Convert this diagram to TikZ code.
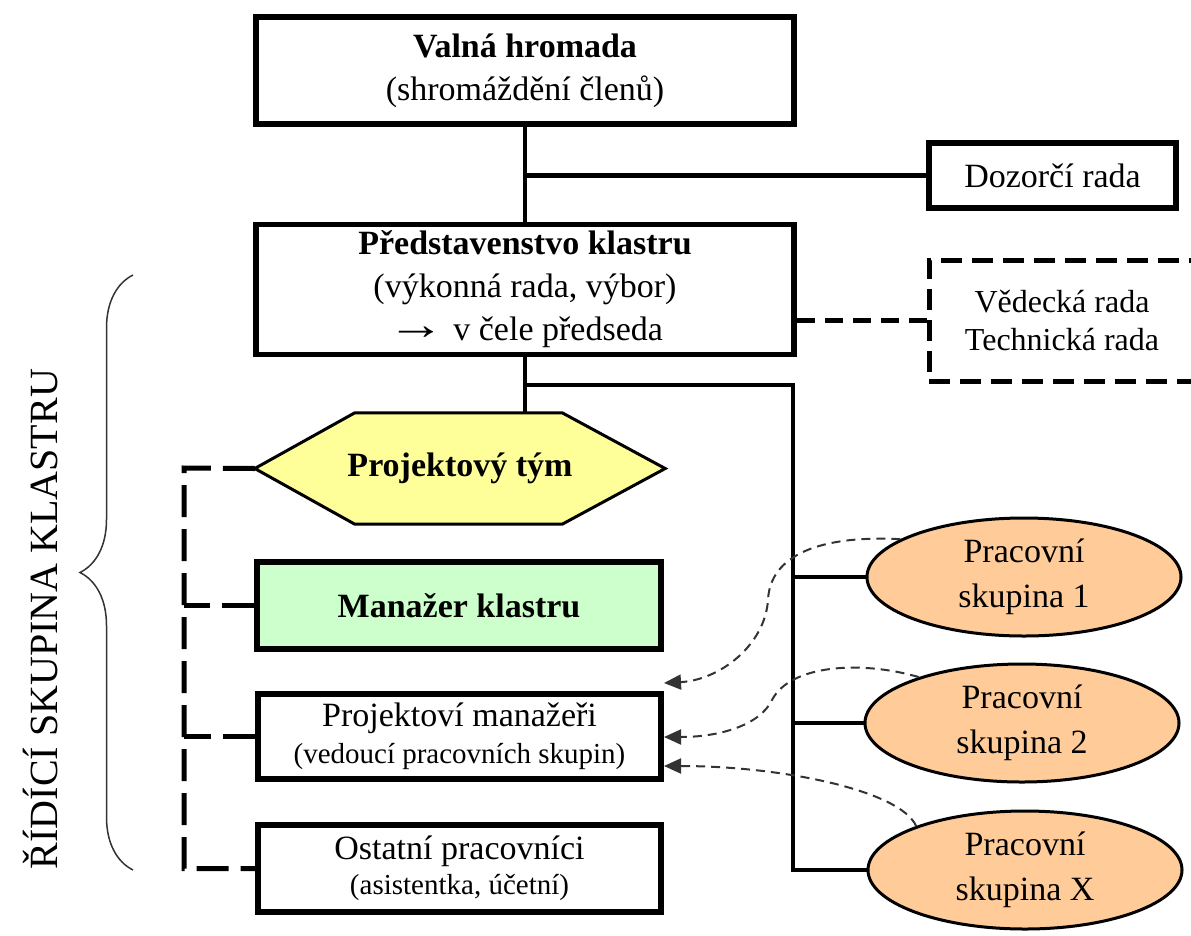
\documentclass[tikz,border=0pt]{standalone}
\usepackage{graphicx}
\usepackage{fontspec}
\setmainfont{Liberation Serif}
\usetikzlibrary{shapes.geometric,arrows.meta,decorations.pathreplacing}
\pgfdeclarelayer{background}
\pgfsetlayers{background,main}
\definecolor{hexfill}{HTML}{FFFF99}
\definecolor{mgrfill}{HTML}{CCFFCC}
\definecolor{grpfill}{HTML}{FFCC99}
\newcommand{\headarrow}{\raisebox{1pt}{\scalebox{1.7}[1.3]{→}}}

\begin{document}
\begin{tikzpicture}[x=1pt,y=-1pt,
  font=\fontsize{34}{43}\selectfont,
  box/.style={draw, rectangle, line width=5.5pt, inner sep=0pt, align=center},
  dbox/.style={draw, rectangle, line width=5pt, dash pattern=on 21pt off 10pt,
    inner sep=0pt, align=center, font=\fontsize{32}{38}\selectfont},
  grp/.style={draw, ellipse, line width=3pt, fill=grpfill, inner sep=0pt,
    minimum width=314pt, minimum height=118pt, align=center,
    font=\fontsize{34}{45}\selectfont},
  conn/.style={line width=4.5pt},
  dconn/.style={line width=5pt, dash pattern=on 18pt off 10pt},
  bracket/.style={line width=5pt, dash pattern=on 32pt off 12pt},
  link/.style={line width=2pt, draw=black!80, dash pattern=on 9pt off 6pt,
    -{Triangle[length=17pt,width=15pt]}}
]
\useasboundingbox (0,0) rectangle (1191,935);
\clip (0,0) rectangle (1191,935);

% governing bodies
\node[box, minimum width=538pt, minimum height=107pt] (vh) at (525,70.5)
  {\textbf{Valná hromada}\\(shromáždění členů)};
\node[box, minimum width=247pt, minimum height=65pt] (dr) at (1052.5,175.5)
  {Dozorčí rada};
\node[box, minimum width=538pt, minimum height=130pt] (ps) at (525,289.5)
  {\textbf{Představenstvo klastru}\\(výkonná rada, výbor)\\\headarrow{} v čele předseda};
\node[dbox, minimum width=266pt, minimum height=121pt] (vr) at (1062,320.5)
  {Vědecká rada\\Technická rada};

% project team (hexagon drawn behind the label)
\node[inner sep=0pt, minimum width=410pt, minimum height=111pt] (pt) at (460,468.5)
  {\textbf{Projektový tým}};
\begin{pgfonlayer}{background}
  \filldraw[line width=3pt, fill=hexfill, line join=miter]
    (pt.west) -- ([xshift=100pt]pt.north west) -- ([xshift=-103pt]pt.north east)
    -- (pt.east) -- ([xshift=-103pt]pt.south east) -- ([xshift=100pt]pt.south west)
    -- cycle;
\end{pgfonlayer}

% management boxes
\node[box, fill=mgrfill, minimum width=404pt, minimum height=87pt] (mk) at (459,605.5)
  {\textbf{Manažer klastru}};
\node[box, minimum width=403pt, minimum height=85pt] (pm) at (459.5,736.5)
  {Projektoví manažeři\\[-6pt]{\fontsize{29}{36}\selectfont (vedoucí pracovních skupin)}};
\node[box, minimum width=403pt, minimum height=87pt] (oc) at (459.5,868.5)
  {Ostatní pracovníci\\[-8pt]{\fontsize{29}{36}\selectfont (asistentka, účetní)}};

% working groups
\node[grp] (pg1) at (1024,577) {Pracovní\\skupina 1};
\node[grp] (pg2) at (1022,723) {Pracovní\\skupina 2};
\node[grp] (pgX) at (1025,870) {Pracovní\\skupina X};

% solid hierarchy lines
\draw[conn] (vh.south) -- (ps.north);
\draw[conn] (vh.south |- dr.west) -- (dr.west);
\coordinate (bus) at (793,385);
\draw[conn] (ps.south) -- (ps.south |- pt.north);
\draw[conn] (ps.south |- bus) -- (bus) -- (bus |- pgX.west) -- (pgX.west);
\draw[conn] (bus |- pg1.west) -- (pg1.west);
\draw[conn] (bus |- pg2.west) -- (pg2.west);

% dashed links
\draw[dconn] (ps.east |- vr.west) -- (vr.west);
\coordinate (lb) at (184,468);
\draw[bracket] (pt.west) -- (lb) -- (lb |- oc.west) -- (oc.west);
\draw[bracket] (mk.west) -- (lb |- mk.west);
\draw[bracket] (pm.west) -- (lb |- pm.west);

% reporting arrows from the working groups
\coordinate (t1) at (664,683);
\coordinate (t2) at (664,737);
\coordinate (t3) at (664,766);
\draw[link] (pg1.163) .. controls (820,535) and (770,555) .. (768,600)
  .. controls (765,645) and (720,680) .. (t1);
\draw[link] (pg2.156) .. controls (860,660) and (790,665) .. (772,700)
  .. controls (760,725) and (720,737) .. (t2);
\draw[link] (pgX.158) .. controls (900,790) and (780,766) .. (t3);

% brace with the group label
\coordinate (bb) at (133,870);
\coordinate (bt) at (133,275);
\draw[line width=1.5pt, draw=black!80, decorate, decoration={brace, amplitude=53pt}]
  (bb) -- (bt);
\node[rotate=90, anchor=base, inner sep=0pt, font=\fontsize{40}{48}\selectfont]
  (side) at (57,619) {ŘÍDÍCÍ SKUPINA KLASTRU};
\end{tikzpicture}
\end{document}
